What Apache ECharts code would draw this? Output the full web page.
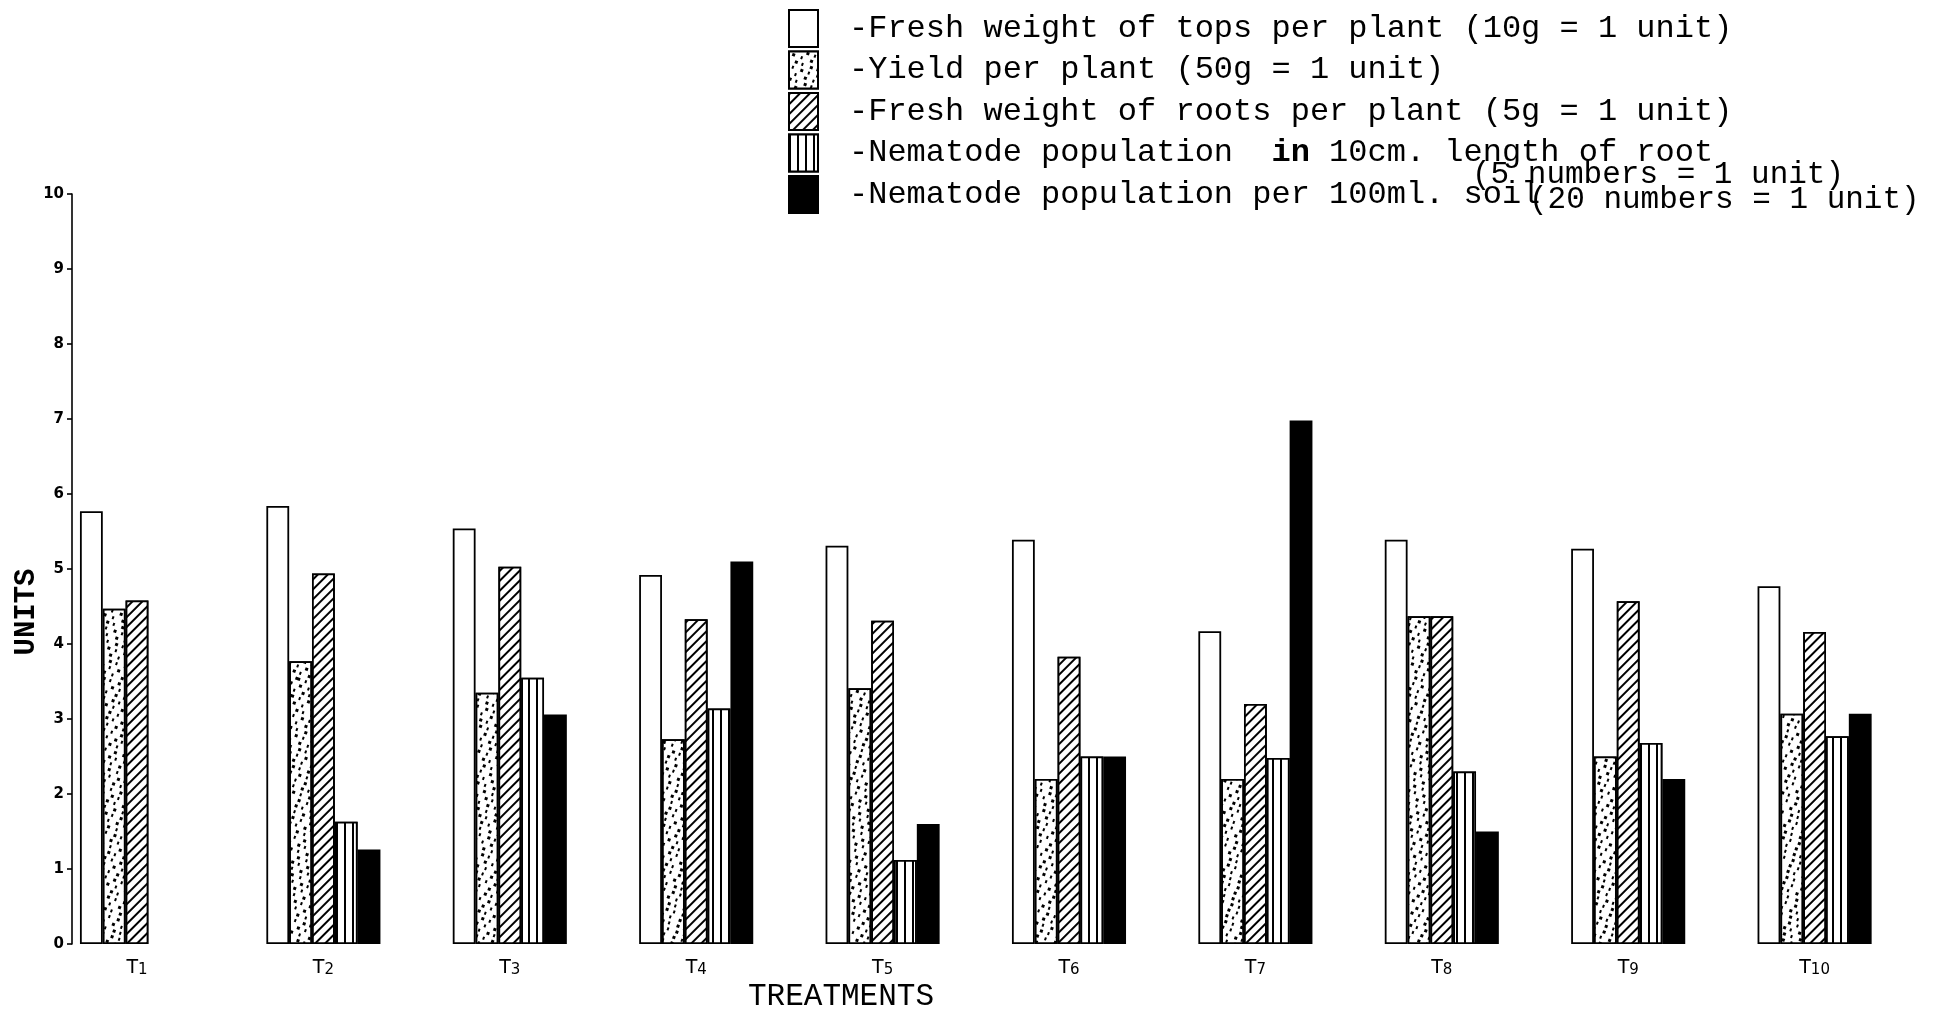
<!DOCTYPE html>
<html>
<head>
<meta charset="utf-8">
<script src="https://cdn.jsdelivr.net/npm/echarts@6/dist/echarts.min.js"></script>
<style>
html,body{margin:0;padding:0;background:#fff;}
#chart{width:1940px;height:1015px;}
</style>
</head>
<body>
<div id="chart"></div>
<script>
// ---- data (units) ----
const categories = ['T1','T2','T3','T4','T5','T6','T7','T8','T9','T10'];
const seriesNames = [
  '-Fresh weight of tops per plant (10g = 1 unit)',
  '-Yield per plant (50g = 1 unit)',
  '-Fresh weight of roots per plant (5g = 1 unit)',
  '-Nematode population  in 10cm. length of root',
  '-Nematode population per 100ml. soil'
];
const freshTops  = [5.77, 5.84, 5.54, 4.92, 5.31, 5.39, 4.17, 5.39, 5.27, 4.77];
const yieldPlant = [4.47, 3.77, 3.35, 2.73, 3.41, 2.20, 2.20, 4.37, 2.50, 3.07];
const freshRoots = [4.58, 4.94, 5.03, 4.33, 4.31, 3.83, 3.20, 4.37, 4.57, 4.16];
const nemaRoot   = [null, 1.63, 3.55, 3.14, 1.12, 2.50, 2.48, 2.30, 2.68, 2.77];
const nemaSoil   = [null, 1.26, 3.06, 5.10, 1.60, 2.50, 6.98, 1.50, 2.20, 3.07];
const yMin = 0, yMax = 10, yStep = 1;
const unitNotes = ['(5 numbers = 1 unit)', '(20 numbers = 1 unit)'];
const xTitle = 'TREATMENTS';
const yTitle = 'UNITS';

// ---- styles ----
const mono = '"Liberation Mono", "DejaVu Sans Mono", monospace';
const border = {borderColor:'#000', borderWidth:1.8};
const dotDecal = {
  symbol:'rect', symbolSize:1, color:'#000', backgroundColor:'#fff',
  dashArrayX:[[2.5,5,2,7],[0,3.5,2.5,6,2,4],[2,7,2.5,4]],
  dashArrayY:[2.5,3], rotation:0.35
};
const hatchDecal = {
  symbol:'rect', symbolSize:1, color:'#000', backgroundColor:'#fff',
  dashArrayX:[[1,0]], dashArrayY:[1.7,4.2], rotation:-Math.PI/4
};
const vertDecal = {
  symbol:'rect', symbolSize:1, color:'#000', backgroundColor:'#fff',
  dashArrayX:[1.6,6], dashArrayY:[10,0], rotation:0
};
const styles = [
  Object.assign({color:'#fff'}, border),
  Object.assign({color:'#fff', decal:dotDecal}, border),
  Object.assign({color:'#fff', decal:hatchDecal}, border),
  Object.assign({color:'#fff', decal:vertDecal}, border),
  Object.assign({color:'#000'}, border)
];
const values = [freshTops, yieldPlant, freshRoots, nemaRoot, nemaSoil];

const chart = echarts.init(document.getElementById('chart'), null, {renderer:'canvas'});
const option = {
  backgroundColor:'#fff',
  animation:false,
  grid:{left:43.8, right:32.2, top:194, bottom:71, containLabel:false, outerBoundsMode:'none'},
  legend:{
    orient:'vertical', left:783, top:4,
    itemWidth:29, itemHeight:37, itemGap:2.5,
    icon:'rect', selectedMode:false,
    data:seriesNames,
    formatter:function(n){ return n.indexOf('  in ')>=0 ? n.replace('  in ', '  {b|in} ') : n; },
    textStyle:{
      fontFamily:mono, fontSize:32, lineHeight:37, color:'#000', padding:[0,0,0,26],
      rich:{b:{fontFamily:mono, fontSize:32, fontWeight:'bold', color:'#000'}}
    }
  },
  xAxis:{
    type:'category', data:categories,
    axisLine:{show:false}, axisTick:{show:false},
    axisLabel:{
      margin:14, color:'#000',
      formatter:function(v){ return '{t|T}{s|' + v.slice(1) + '}'; },
      rich:{
        t:{fontFamily:'"DejaVu Sans", sans-serif', fontSize:19, color:'#000'},
        s:{fontFamily:'"DejaVu Sans", sans-serif', fontSize:15, color:'#000', padding:[5,0,0,0]}
      }
    }
  },
  yAxis:{
    type:'value', min:yMin, max:yMax, interval:yStep, offset:-28.2,
    axisLine:{show:true, lineStyle:{color:'#000', width:1.6}},
    axisTick:{show:true, length:5, lineStyle:{color:'#000', width:1.6}},
    axisLabel:{margin:8, color:'#000', fontFamily:'"DejaVu Sans", sans-serif', fontSize:15, fontWeight:'bold'},
    splitLine:{show:false}
  },
  graphic:[
    {type:'text', x:27, y:612, rotation:Math.PI/2,
     style:{text:yTitle, fontFamily:mono, fontSize:29, fontWeight:'bold', fill:'#000', align:'center', verticalAlign:'middle'}},
    {type:'text', x:841, y:997,
     style:{text:xTitle, fontFamily:mono, fontSize:31, fill:'#000', align:'center', verticalAlign:'middle'}},
    {type:'text', x:1472, y:175,
     style:{text:unitNotes[0], fontFamily:mono, fontSize:31, fill:'#000', align:'left', verticalAlign:'middle'}},
    {type:'text', x:1529, y:200,
     style:{text:unitNotes[1], fontFamily:mono, fontSize:31, fill:'#000', align:'left', verticalAlign:'middle'}}
  ],
  series: values.map(function(v,i){
    return {
      name:seriesNames[i], type:'bar', data:v,
      barGap:'0%', barCategoryGap:'38.8%',
      itemStyle:styles[i]
    };
  })
};
chart.setOption(option);
</script>
</body>
</html>
